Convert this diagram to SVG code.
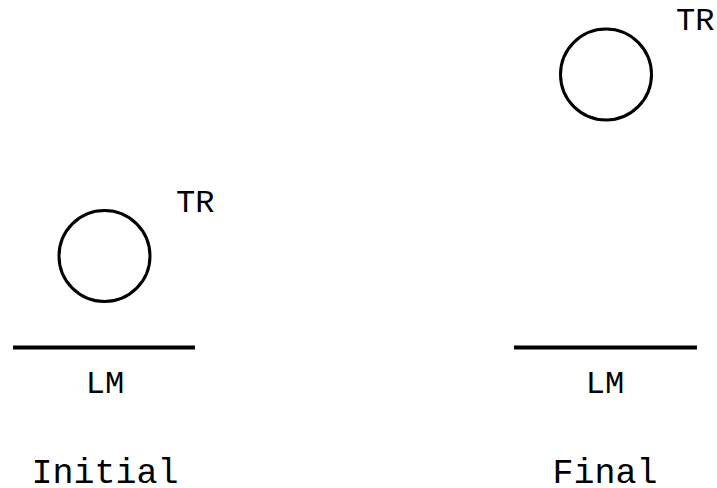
<svg xmlns="http://www.w3.org/2000/svg" width="717" height="488" viewBox="0 0 717 488">
<style>
.t{font-family:"Liberation Mono","Courier New",monospace;font-size:32px;fill:#000}
.h{font-family:"Liberation Mono","Courier New",monospace;font-size:35px;fill:#000}
.c{fill:none;stroke:#000;stroke-width:3}
.l{stroke:#000;stroke-width:4}
</style>
<rect width="717" height="488" fill="#fff"/>
<g id="initial">
<g id="tr-initial"><circle class="c" cx="104.5" cy="256" r="45.5"/><text class="t" x="176" y="212">TR</text></g>
<g id="lm-initial"><line class="l" x1="13" y1="347.5" x2="195" y2="347.5"/><text class="t" x="105" y="393" text-anchor="middle">LM</text></g>
<text class="h" x="105" y="483" text-anchor="middle">Initial</text>
</g>
<g id="final">
<g id="tr-final"><circle class="c" cx="606" cy="74.5" r="45.5"/><text class="t" x="676" y="30">TR</text></g>
<g id="lm-final"><line class="l" x1="514" y1="347.5" x2="697" y2="347.5"/><text class="t" x="605" y="393" text-anchor="middle">LM</text></g>
<text class="h" x="605" y="483" text-anchor="middle">Final</text>
</g>
<g id="connectors"/>
</svg>
